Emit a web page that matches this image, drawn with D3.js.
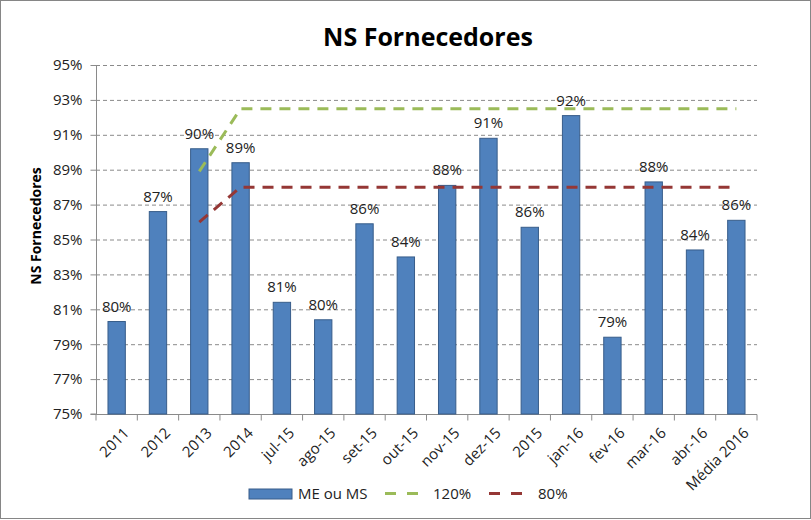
<!DOCTYPE html>
<html><head><meta charset="utf-8">
<script src="https://cdn.jsdelivr.net/npm/d3@7"></script>
<style>body{margin:0;background:#fff}svg{display:block}</style>
</head><body>
<svg id="c" width="811" height="520"></svg>
<script>
const categories = ["2011","2012","2013","2014","jul-15","ago-15","set-15","out-15","nov-15","dez-15","2015","jan-16","fev-16","mar-16","abr-16","Média 2016"];
const meOuMs = [80.3,86.6,90.2,89.4,81.4,80.4,85.9,84.0,88.1,90.8,85.7,92.1,79.4,88.3,84.4,86.1];
const line120 = [null,null,88.9,92.5,92.5,92.5,92.5,92.5,92.5,92.5,92.5,92.5,92.5,92.5,92.5,92.5];
const line80 = [null,null,86.0,88.0,88.0,88.0,88.0,88.0,88.0,88.0,88.0,88.0,88.0,88.0,88.0,88.0];
const yTicks = [75,77,79,81,83,85,87,89,91,93,95];

const font = "'Open Sans', 'Liberation Sans', sans-serif";
const svg = d3.select("#c");
svg.append("rect").attr("x",0.5).attr("y",0.5).attr("width",810).attr("height",518)
  .attr("fill","#fff").attr("stroke","#868686");

const L = 96, R = 757, T = 65, B = 414;
const x = d3.scaleBand().domain(categories).range([L,R]).paddingInner(0.58).paddingOuter(0.29);
const xc = d3.scaleBand().domain(categories).range([L,R]);
const y = d3.scaleLinear().domain([75,95]).range([B,T]);

// grid
svg.append("g").selectAll("line").data(yTicks.slice(1)).join("line")
  .attr("x1",L).attr("x2",R).attr("y1",d=>y(d)+0.5).attr("y2",d=>y(d)+0.5)
  .attr("stroke","#8a8a8a").attr("stroke-dasharray","4,3").attr("stroke-width",1);

// y axis
const ya = svg.append("g").attr("transform",`translate(${L+0.5},0)`)
  .call(d3.axisLeft(y).tickValues(yTicks).tickFormat(d=>d+"%").tickSize(6).tickPadding(8));
ya.select(".domain").attr("stroke","#8a8a8a").attr("d",`M-6,${B}H0V${T}`);
ya.selectAll(".tick line").attr("stroke","#8a8a8a");
ya.selectAll("text").attr("font-family",font).attr("font-size",15).attr("fill","#222");

// x axis
const xa = svg.append("g").attr("transform",`translate(0,${B+0.5})`);
xa.append("line").attr("x1",L).attr("x2",R).attr("stroke","#8a8a8a");
xa.selectAll("line.t").data(categories.concat(["end"])).join("line").attr("class","t")
  .attr("x1",(d,i)=>L+i*xc.bandwidth()).attr("x2",(d,i)=>L+i*xc.bandwidth())
  .attr("y1",0).attr("y2",6).attr("stroke","#8a8a8a");
xa.selectAll("text").data(categories).join("text")
  .attr("transform",d=>`translate(${xc(d)+xc.bandwidth()/2+6},12) rotate(-45)`)
  .attr("text-anchor","end").attr("font-family",font).attr("font-size",15).attr("fill","#222")
  .attr("dy","0.7em").text(d=>d);

// bars
svg.append("g").selectAll("rect").data(meOuMs).join("rect")
  .attr("x",(d,i)=>x(categories[i])).attr("width",x.bandwidth())
  .attr("y",d=>y(d)).attr("height",d=>B-y(d))
  .attr("fill","#4f81bd").attr("stroke","#385d8a").attr("stroke-width",1);

// labels
svg.append("g").selectAll("text").data(meOuMs).join("text")
  .attr("x",(d,i)=>x(categories[i])+x.bandwidth()/2).attr("y",d=>y(d)-10)
  .attr("text-anchor","middle").attr("font-family",font).attr("font-size",15).attr("fill","#222")
  .text(d=>Math.round(d)+"%");

// lines
const line = d3.line().defined(d=>d.v!=null).x(d=>xc(d.c)+xc.bandwidth()/2).y(d=>y(d.v));
svg.append("path").datum(categories.map((c,i)=>({c,v:line120[i]})))
  .attr("d",line).attr("fill","none").attr("stroke","#9bbb59").attr("stroke-width",3).attr("stroke-dasharray","11,8");
svg.append("path").datum(categories.map((c,i)=>({c,v:line80[i]})))
  .attr("d",line).attr("fill","none").attr("stroke","#953735").attr("stroke-width",3).attr("stroke-dasharray","11,8");

// title
svg.append("text").attr("x",428).attr("y",46).attr("text-anchor","middle")
  .attr("font-family",font).attr("font-weight","bold").attr("font-size",25).attr("fill","#000")
  .text("NS Fornecedores");
svg.append("text").attr("transform","translate(41,226) rotate(-90)").attr("text-anchor","middle")
  .attr("font-family",font).attr("font-weight","bold").attr("font-size",14).attr("fill","#000")
  .text("NS Fornecedores");

// legend
const lg = svg.append("g").attr("font-family",font).attr("font-size",15).attr("fill","#222");
lg.append("rect").attr("x",249).attr("y",489).attr("width",43).attr("height",10)
  .attr("fill","#4f81bd").attr("stroke","#385d8a");
lg.append("text").attr("x",298).attr("y",499).text("ME ou MS");
lg.append("line").attr("x1",385).attr("x2",418).attr("y1",493.5).attr("y2",493.5)
  .attr("stroke","#9bbb59").attr("stroke-width",3).attr("stroke-dasharray","11,11");
lg.append("text").attr("x",433).attr("y",499).text("120%");
lg.append("line").attr("x1",489).attr("x2",522).attr("y1",493.5).attr("y2",493.5)
  .attr("stroke","#953735").attr("stroke-width",3).attr("stroke-dasharray","11,11");
lg.append("text").attr("x",538).attr("y",499).text("80%");
</script>
</body></html>
